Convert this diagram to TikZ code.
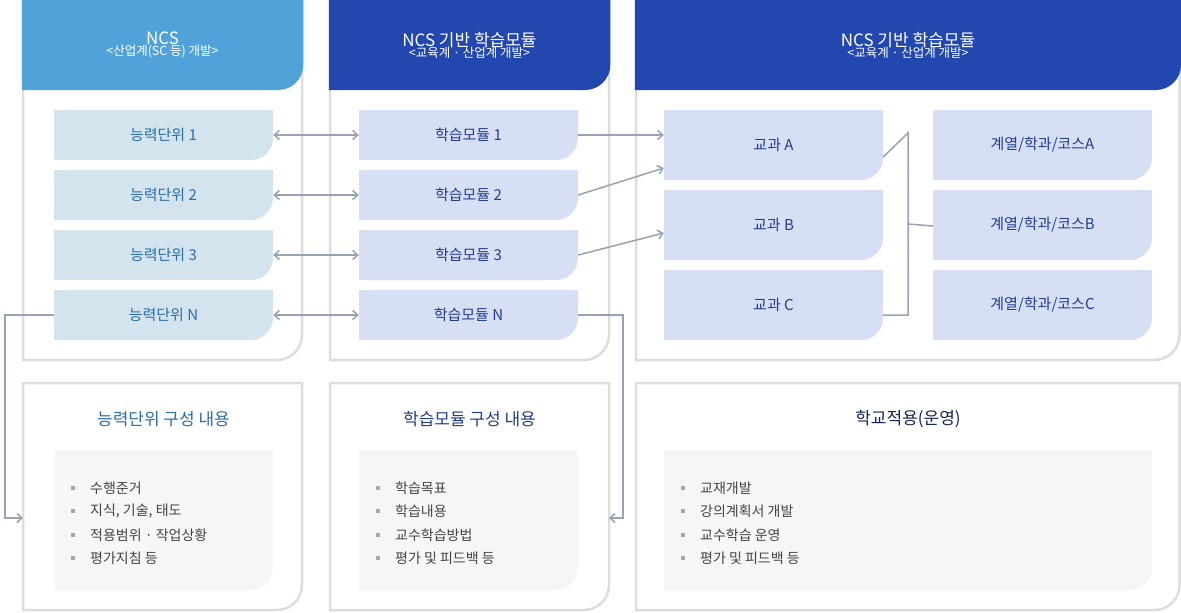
\documentclass[tikz,border=0pt]{standalone}
\usepackage{fontspec}
\setmainfont{Noto Sans CJK KR}
\usetikzlibrary{arrows.meta}
\definecolor{hA}{HTML}{4FA3D8}
\definecolor{hB}{HTML}{2248B0}
\definecolor{bA}{HTML}{D3E4EF}
\definecolor{bB}{HTML}{D7DFF5}
\definecolor{tA}{HTML}{2B6EA8}
\definecolor{tB}{HTML}{233D8C}
\definecolor{pan}{HTML}{DDDDDD}
\definecolor{inn}{HTML}{F6F6F6}
\definecolor{con}{HTML}{97A3B3}
\definecolor{itm}{HTML}{444444}
\newcommand\brpath[5]{(#1,#2) -- (#3,#2) -- (#3,#4-#5) .. controls (#3,#4-0.448*#5) and (#3-0.448*#5,#4) .. (#3-#5,#4) -- (#1,#4) -- cycle}
\tikzset{
  lbl/.style={inner sep=0pt, font=\fontsize{15}{18}\selectfont},
  conn/.style={draw=con, line width=1.5pt, -{Straight Barb[length=5pt,width=9pt]}},
  dconn/.style={draw=con, line width=1.5pt, {Straight Barb[length=5pt,width=9pt]}-{Straight Barb[length=5pt,width=9pt]}},
  line/.style={draw=con, line width=1.5pt},
  itemtxt/.style={inner sep=0pt, anchor=west, text=itm, font=\fontsize{14}{17}\selectfont},
  btitle/.style={inner sep=0pt, font=\fontsize{17}{20}\selectfont},
  panel/.style={draw=pan, line width=2.5pt, fill=white}
}
\begin{document}
\begin{tikzpicture}[x=1pt,y=-1pt]
\useasboundingbox (0,0) rectangle (1181,613);
% panels
\draw[panel] \brpath{23}{0}{302}{360}{25};
\draw[panel] \brpath{330}{0}{609}{360}{25};
\draw[panel] \brpath{636}{0}{1179.5}{360}{25};
\draw[panel] \brpath{23}{383}{302}{610}{25};
\draw[panel] \brpath{330}{383}{609}{610}{25};
\draw[panel] \brpath{636}{383}{1179.5}{610}{25};
% headers
\fill[hA] \brpath{21.75}{0}{303.25}{90}{25};
\fill[hB] \brpath{328.75}{0}{610.25}{90}{25};
\fill[hB] \brpath{634.75}{0}{1181}{90}{25};
\node[inner sep=0pt, text=white, align=center] (h1) at (162.5,45) {{\fontsize{17}{22}\selectfont NCS}\\[-1pt]{\fontsize{12.5}{16}\selectfont <산업계(SC 등) 개발>}};
\node[inner sep=0pt, text=white, align=center] (h2) at (469.5,45) {{\fontsize{17}{22}\selectfont NCS 기반 학습모듈}\\[-1pt]{\fontsize{12.5}{16}\selectfont <교육계 · 산업계 개발>}};
\node[inner sep=0pt, text=white, align=center] (h3) at (908,45) {{\fontsize{17}{22}\selectfont NCS 기반 학습모듈}\\[-1pt]{\fontsize{12.5}{16}\selectfont <교육계 · 산업계 개발>}};
% column boxes
\foreach \yv/\lab/\n in {110/1/1,170/2/2,230/3/3,290/N/4}{
  \fill[bA] \brpath{54}{\yv}{273}{\yv+50}{22};
  \fill[bB] \brpath{359}{\yv}{578}{\yv+50}{22};
  \node[lbl, text=tA, minimum width=219pt, minimum height=50pt] (a\n) at (163.5,\yv+25) {능력단위 \lab};
  \node[lbl, text=tB, minimum width=219pt, minimum height=50pt] (m\n) at (468.5,\yv+25) {학습모듈 \lab};
}
\foreach \yv/\lab/\n in {110/A/1,190/B/2,270/C/3}{
  \fill[bB] \brpath{664}{\yv}{883}{\yv+70}{22};
  \fill[bB] \brpath{933}{\yv}{1152}{\yv+70}{22};
  \node[lbl, text=tB, minimum width=219pt, minimum height=70pt] (s\n) at (773.5,\yv+35) {교과 \lab};
  \node[lbl, text=tB, minimum width=219pt, minimum height=70pt] (d\n) at (1042.5,\yv+35) {계열/학과/코스\lab};
}
% inner boxes
\fill[inn] \brpath{54}{450}{273}{590}{22};
\fill[inn] \brpath{359}{450}{578}{590}{22};
\fill[inn] \brpath{664}{450}{1152}{590}{22};
\node[btitle, text=tA] (t1) at (163.5,419) {능력단위 구성 내용};
\node[btitle, text=tB] (t2) at (469.5,419) {학습모듈 구성 내용};
\node[btitle, text=tB!60!black] (t3) at (908,419) {학교적용(운영)};
\foreach \xv/\ia/\ib/\ic/\id in {73/수행준거/{지식, 기술, 태도}/적용범위 · 작업상황/평가지침 등,378/학습목표/학습내용/교수학습방법/평가 및 피드백 등,683/교재개발/강의계획서 개발/교수학습 운영/평가 및 피드백 등}{
  \foreach \yy/\itxt in {488/\ia,511/\ib,535/\ic,558/\id}{
    \fill[gray!70] (\xv-2,\yy-2) rectangle (\xv+2,\yy+2);
    \node[itemtxt] at (\xv+17,\yy) {\itxt};
  }
}
% connectors
\foreach \n in {1,2,3,4}{ \draw[dconn] (a\n.east) -- (m\n.west); }
\draw[conn] (m1.east) -- (s1.west |- m1.east);
\draw[conn] (m2.east) -- ([yshift=-23pt]s1.west);
\draw[conn] (m3.east) -- ([yshift=-8pt]s2.west);
\coordinate (ja) at (5,518);
\coordinate (jb) at (623,518);
\draw[conn] (a4.west) -- (5,315) -- (ja) -- (23,518);
\draw[conn] (m4.east) -- (623,315) -- (jb) -- (609,518);
\draw[line] ([yshift=-12pt]s1.east) -- (908,133) -- (908,315) -- ([yshift=-10pt]s3.east);
\draw[line] (908,224) -- ([yshift=-1pt]d2.west);
\end{tikzpicture}
\end{document}
